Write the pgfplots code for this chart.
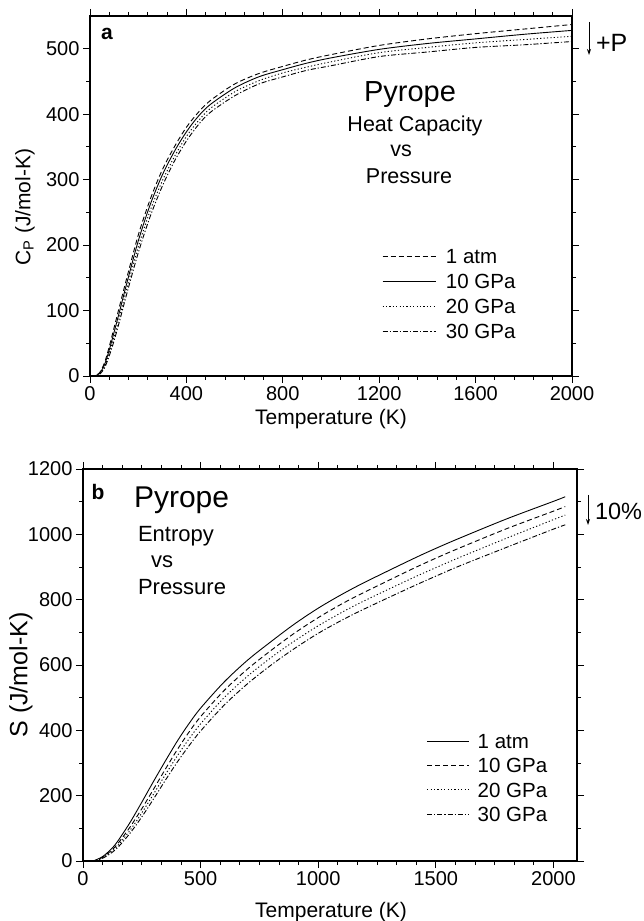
\documentclass[border=0pt]{standalone}
\usepackage{pgfplots}
\pgfplotsset{compat=1.18}
\usetikzlibrary{arrows.meta}
\usepackage{fontspec}
\setmainfont{Liberation Sans}

\pgfplotstableread{
T A B C D
0 0 0 0 0
20 0.3 0.2 0.15 0.1
30 2 1.5 1.2 1
40 5 4 3 2.5
60 20 17 14 12
80 45 40 35 31
100 74 67 60 54
125 110 102 94 87
150 146 138 130 122
200 215 206 197 188
250 270 262 253 244
300 315 307 298 290
350 350 343 335 328
400 380 373 366 359
450 403 397 390 384
500 421 415 409 403
600 446 440 434 428
700 462 457 451 446
800 473 468 463 457
900 483 478 472 467
1000 491 486 480 474
1200 505 499 494 488
1400 515 508 502 495
1600 523 515 509 502
1800 530 522 514 506
2000 537 528 519 511
}\cptable

\pgfplotstableread{
T A B C D
40 0 0 0 0
45 1 0 0 0
50 2 1 0.7 0
60 5 3.5 3 2
80 12 10 9 7
100 23 20 18 15
125 40 35 31 27
150 63 55 49 43
200 118 104 94 85
250 180 160 147 135
300 244 220 205 190
350 306 281 264 247
400 366 340 321 302
450 420 394 373 352
500 468 442 420 398
600 548 522 500 477
700 615 588 566 543
800 672 645 623 600
900 726 698 674 651
1000 774 745 720 697
1100 816 787 761 737
1200 854 824 798 773
1400 924 894 866 840
1500 957 927 898 872
1600 988 958 929 903
1800 1047 1017 988 960
2000 1101 1071 1045 1016
2050 1115 1085 1059 1029
}\stable

\pgfplotsset{
  myaxis/.style={
    scale only axis,
    tick align=outside, tick pos=both,
    major tick length=7pt, minor tick length=4pt,
    every tick/.style={black, line width=0.9pt},
    axis line style={line width=1.1pt},
    tick label style={font=\fontsize{20}{20}\selectfont},
    /pgf/number format/assume math mode=true,
    /pgf/number format/set thousands separator={},
    legend cell align=left,
    clip=false,
  },
  cdash/.style={black, line width=0.9pt, dash pattern=on 5pt off 3pt},
  csolid/.style={black, line width=0.9pt},
  cdot/.style={black, line width=0.9pt, dash pattern=on 1.2pt off 2.2pt},
  cdashdot/.style={black, line width=0.9pt, dash pattern=on 5pt off 2pt on 1.2pt off 2pt},
}

\begin{document}
\begin{tikzpicture}
\path[use as bounding box] (0,0) rectangle (644pt,921pt);

% ---------- panel a ----------
\begin{axis}[myaxis,
  at={(90pt,545pt)}, anchor=south west,
  width=482pt, height=360pt,
  xmin=0, xmax=2000, ymin=0, ymax=550,
  xtick={0,400,...,2000}, minor x tick num=4,
  ytick={0,100,...,500}, minor y tick num=1,
  legend image code/.code={\draw[#1] (0pt,0pt) -- (53pt,0pt);},
  legend style={draw=none, fill=none, inner sep=0pt, outer sep=0pt,
    at={(0.606,0.354)}, anchor=north west, row sep=10pt,
    font=\fontsize{20.5}{20.5}\selectfont,
    nodes={inner sep=0pt, text height=15pt, text depth=0pt},
    /tikz/every odd column/.style={column sep=10pt}},
]
\addplot[cdash, smooth] table[x=T, y=A] {\cptable};
\addplot[csolid, smooth] table[x=T, y=B] {\cptable};
\addplot[cdot, smooth] table[x=T, y=C] {\cptable};
\addplot[cdashdot, smooth] table[x=T, y=D] {\cptable};
\legend{1 atm, 10 GPa, 20 GPa, 30 GPa}
\end{axis}

% ---------- panel b ----------
\begin{axis}[myaxis,
  at={(83pt,60pt)}, anchor=south west,
  width=494pt, height=392pt,
  xmin=0, xmax=2100, ymin=0, ymax=1200,
  xtick={0,500,...,2000}, minor x tick num=5,
  ytick={0,200,...,1200}, minor y tick num=1,
  legend image code/.code={\draw[#1] (0pt,0pt) -- (42pt,0pt);},
  legend style={draw=none, fill=none, inner sep=0pt, outer sep=0pt,
    at={(0.696,0.325)}, anchor=north west, row sep=9.3pt,
    font=\fontsize{20.5}{20.5}\selectfont,
    nodes={inner sep=0pt, text height=15pt, text depth=0pt},
    /tikz/every odd column/.style={column sep=8pt}},
]
\addplot[csolid, smooth] table[x=T, y=A] {\stable};
\addplot[cdash, smooth] table[x=T, y=B] {\stable};
\addplot[cdot, smooth] table[x=T, y=C] {\stable};
\addplot[cdashdot, smooth] table[x=T, y=D] {\stable};
\legend{1 atm, 10 GPa, 20 GPa, 30 GPa}
\end{axis}

% ---------- annotations (image y -> 921 - y) ----------
\begin{scope}[every node/.style={inner sep=0pt, outer sep=0pt}]
% panel a
\node[anchor=base, font=\fontsize{21}{21}\selectfont\bfseries] at (107pt,881pt) {a};
\node[anchor=base, font=\fontsize{29}{29}\selectfont] at (410pt,819pt) {Pyrope};
\node[anchor=base, font=\fontsize{21.5}{21.5}\selectfont] at (415pt,789pt) {Heat Capacity};
\node[anchor=base, font=\fontsize{21.5}{21.5}\selectfont] at (401pt,764pt) {vs};
\node[anchor=base, font=\fontsize{21.5}{21.5}\selectfont] at (409pt,737pt) {Pressure};
\draw[-{Stealth[length=6pt,width=4pt]}, line width=0.9pt] (589pt,899pt) -- (589pt,866pt);
\node[anchor=base west, font=\fontsize{25}{25}\selectfont] at (596pt,869pt) {+P};
\node[anchor=base, font=\fontsize{21}{21}\selectfont] at (331pt,496pt) {Temperature (K)};
\node[rotate=90, font=\fontsize{21}{21}\selectfont] at (25pt,714pt) {C\textsubscript{P} (J/mol-K)};
% panel b
\node[anchor=base, font=\fontsize{21}{21}\selectfont\bfseries] at (98pt,421pt) {b};
\node[anchor=base west, font=\fontsize{30}{30}\selectfont] at (134pt,413pt) {Pyrope};
\node[anchor=base west, font=\fontsize{22}{22}\selectfont] at (138pt,379pt) {Entropy};
\node[anchor=base, font=\fontsize{22}{22}\selectfont] at (162pt,353pt) {vs};
\node[anchor=base west, font=\fontsize{22}{22}\selectfont] at (138pt,326pt) {Pressure};
\draw[-{Stealth[length=6pt,width=4pt]}, line width=0.9pt] (588pt,426pt) -- (588pt,396pt);
\node[anchor=base west, font=\fontsize{23.5}{23.5}\selectfont] at (595pt,401pt) {10\%};
\node[anchor=base, font=\fontsize{21}{21}\selectfont] at (331pt,4pt) {Temperature (K)};
\node[rotate=90, font=\fontsize{25}{25}\selectfont] at (21pt,246pt) {S (J/mol-K)};
\end{scope}
\end{tikzpicture}
\end{document}
